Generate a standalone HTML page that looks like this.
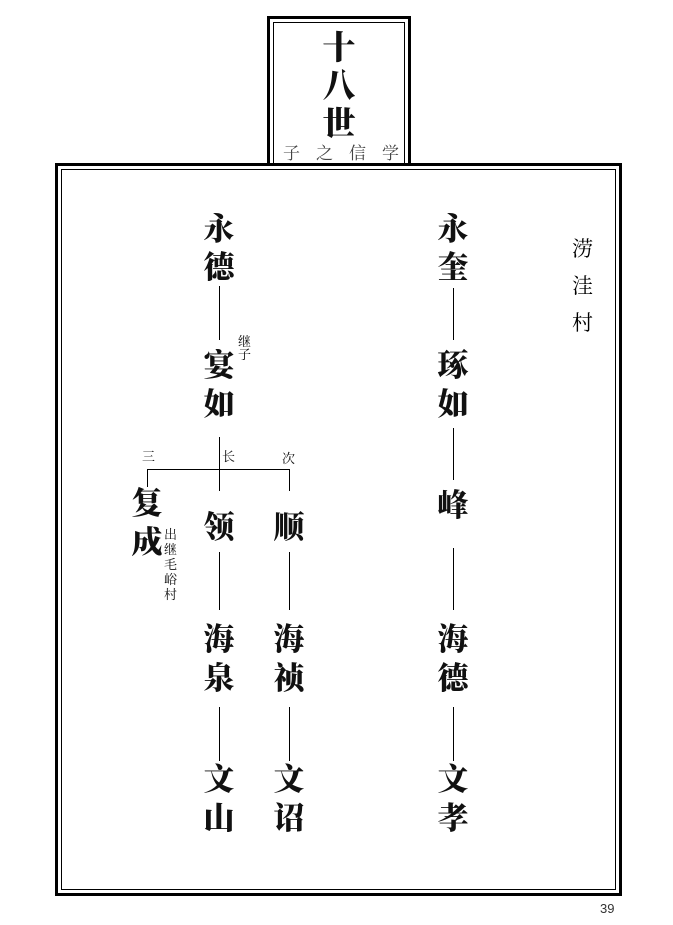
<!DOCTYPE html>
<html><head><meta charset="utf-8"><style>
body{margin:0;width:673px;height:925px;background:#fff;position:relative;overflow:hidden;font-family:"Liberation Serif","Noto Serif CJK SC",serif}
.a{position:absolute}
.n{position:absolute;font-family:"Liberation Serif","Noto Serif CJK SC",serif;font-weight:900;font-size:31px;line-height:31px;width:40px;margin-left:-20px;text-align:center;color:#111}
.s{position:absolute;font-family:"Liberation Serif","Noto Serif CJK SC",serif;font-size:13px;line-height:13px;color:#111}
.v{position:absolute;width:1px;background:#000}
.h{position:absolute;height:1px;background:#000}
</style></head><body>
<div class="a" style="left:267px;top:16px;width:138px;height:147px;border:3px solid #000;border-bottom:none;box-sizing:border-box;width:144px"></div>
<div class="a" style="left:273px;top:22px;width:132px;height:141px;border:1px solid #000;border-bottom:none;box-sizing:border-box"></div>
<div class="n" style="left:339px;top:34px;font-size:33px">十</div>
<div class="n" style="left:339px;top:72px;font-size:33px">八</div>
<div class="n" style="left:339px;top:110px;font-size:33px">世</div>
<div class="a" style="left:283px;top:143px;font-size:17px;line-height:18px;letter-spacing:16px;color:#444;font-family:'Noto Serif CJK SC',serif">子之信学</div>
<div class="a" style="left:55px;top:163px;width:567px;height:733px;border:3px solid #000;box-sizing:border-box"></div>
<div class="a" style="left:61px;top:169px;width:555px;height:721px;border:1px solid #000;box-sizing:border-box"></div>
<div class="a" style="left:572px;top:230px;font-size:21px;line-height:37px;width:22px;font-family:'Noto Serif CJK SC',serif">涝洼村</div>

<div class="n" style="left:219px;top:214px">永</div>
<div class="n" style="left:219px;top:252px">德</div>
<div class="v" style="left:219px;top:286px;height:54px"></div>
<div class="s" style="left:238px;top:335px;width:13px">继子</div>
<div class="n" style="left:219px;top:350px">宴</div>
<div class="n" style="left:219px;top:389px">如</div>
<div class="v" style="left:219px;top:437px;height:54px"></div>
<div class="h" style="left:147px;top:469px;width:143px"></div>
<div class="s" style="left:142px;top:450px">三</div>
<div class="s" style="left:222px;top:450px">长</div>
<div class="s" style="left:282px;top:452px">次</div>
<div class="v" style="left:147px;top:469px;height:18px"></div>
<div class="v" style="left:289px;top:469px;height:22px"></div>
<div class="n" style="left:147px;top:488px">复</div>
<div class="n" style="left:147px;top:527px">成</div>
<div class="s" style="left:164px;top:527px;width:13px;line-height:15px">出继毛峪村</div>
<div class="n" style="left:219px;top:512px">领</div>
<div class="n" style="left:289px;top:512px">顺</div>
<div class="v" style="left:219px;top:552px;height:58px"></div>
<div class="v" style="left:289px;top:552px;height:58px"></div>
<div class="n" style="left:219px;top:624px">海</div>
<div class="n" style="left:219px;top:663px">泉</div>
<div class="n" style="left:289px;top:624px">海</div>
<div class="n" style="left:289px;top:663px">祯</div>
<div class="v" style="left:219px;top:707px;height:54px"></div>
<div class="v" style="left:289px;top:707px;height:54px"></div>
<div class="n" style="left:219px;top:764px">文</div>
<div class="n" style="left:219px;top:803px">山</div>
<div class="n" style="left:289px;top:764px">文</div>
<div class="n" style="left:289px;top:803px">诏</div>

<div class="n" style="left:453px;top:214px">永</div>
<div class="n" style="left:453px;top:252px">奎</div>
<div class="v" style="left:453px;top:288px;height:52px"></div>
<div class="n" style="left:453px;top:350px">琢</div>
<div class="n" style="left:453px;top:389px">如</div>
<div class="v" style="left:453px;top:428px;height:52px"></div>
<div class="n" style="left:453px;top:490px">峰</div>
<div class="v" style="left:453px;top:548px;height:62px"></div>
<div class="n" style="left:453px;top:624px">海</div>
<div class="n" style="left:453px;top:663px">德</div>
<div class="v" style="left:453px;top:707px;height:54px"></div>
<div class="n" style="left:453px;top:764px">文</div>
<div class="n" style="left:453px;top:803px">孝</div>

<div class="a" style="left:600px;top:901px;font-family:'Liberation Sans',sans-serif;font-size:13px;color:#333">39</div>
</body></html>
